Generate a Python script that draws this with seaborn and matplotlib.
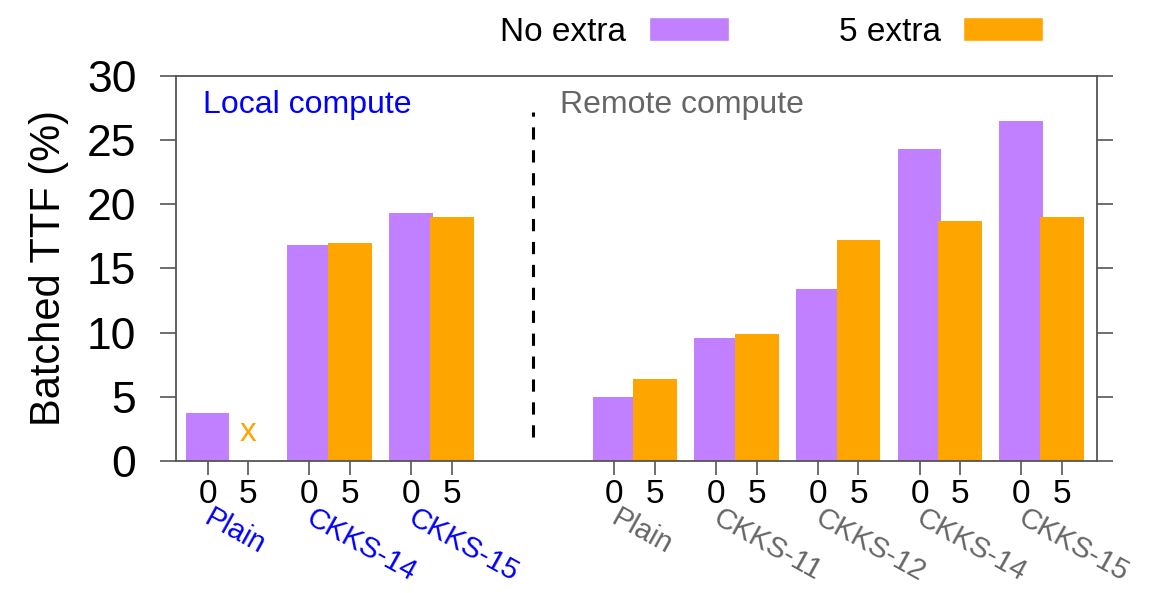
import numpy as np
import pandas as pd
import matplotlib
matplotlib.use("Agg")
import matplotlib.pyplot as plt
import seaborn as sns
from matplotlib.patches import Patch
from matplotlib.transforms import blended_transform_factory

# Batched time-to-first-token overhead per scheme
groups = ["Plain", "CKKS-14", "CKKS-15", "Plain", "CKKS-11", "CKKS-12", "CKKS-14", "CKKS-15"]
settings = ["Local", "Local", "Local", "Remote", "Remote", "Remote", "Remote", "Remote"]
no_extra = [3.7, 16.8, 19.3, 5.0, 9.6, 13.4, 24.3, 26.5]
five_extra = [np.nan, 17.0, 19.0, 6.4, 9.9, 17.2, 18.7, 19.0]
series = ["No extra", "5 extra"]
extra_ticks = ["0", "5"]
yticks = [0, 5, 10, 15, 20, 25, 30]

PURPLE = "#c080ff"
ORANGE = "#ffa500"
LOCAL_COLOR = "#0000ff"
REMOTE_COLOR = "#666666"
AXIS_COLOR = "#555555"

sns.set_style("ticks")
plt.rcParams["font.family"] = ["Liberation Sans", "DejaVu Sans"]
plt.rcParams["text.color"] = "black"
plt.rcParams["axes.labelcolor"] = "black"
plt.rcParams["xtick.labelcolor"] = "black"
plt.rcParams["ytick.labelcolor"] = "black"

# one slot per scheme, with an empty slot separating local and remote
local_keys = [f"{s} {g}" for s, g in zip(settings, groups) if s == "Local"]
remote_keys = [f"{s} {g}" for s, g in zip(settings, groups) if s == "Remote"]
order = local_keys + ["gap"] + remote_keys

rows = []
for s, g, a, b in zip(settings, groups, no_extra, five_extra):
    rows.append({"slot": f"{s} {g}", "series": series[0], "ttf": a})
    rows.append({"slot": f"{s} {g}", "series": series[1], "ttf": b})
df = pd.DataFrame(rows).dropna()

fig = plt.figure(figsize=(11.69, 5.93), dpi=100)
ax = fig.add_axes([0.1506, 0.2226, 0.7878, 0.6497])

sns.barplot(data=df, x="slot", y="ttf", hue="series", order=order,
            hue_order=series, palette=[PURPLE, ORANGE], width=0.8,
            saturation=1, linewidth=0, legend=False, ax=ax)

# slightly wider bars, centred on their ticks
for p in ax.patches:
    c = p.get_x() + p.get_width() / 2
    p.set_width(0.43)
    p.set_x(c - 0.215)

ax.set_xlim(-0.51, len(order) - 1 + 0.545)
ax.set_ylim(0, 30)
ax.set_yticks(yticks)
ax.set_yticklabels([str(v) for v in yticks])

slot_pos = [order.index(f"{s} {g}") for s, g in zip(settings, groups)]
xt, xl = [], []
for k in slot_pos:
    xt += [k - 0.2, k + 0.2]
    xl += extra_ticks
ax.set_xticks(xt)
ax.set_xticklabels(xl)
ax.set_xlabel("")
ax.set_ylabel("Batched TTF (%)", fontsize=30, labelpad=13)

for sp in ax.spines.values():
    sp.set_visible(True)
    sp.set_color(AXIS_COLOR)
    sp.set_linewidth(1.3)

ax.tick_params(axis="y", direction="out", length=11.5, width=1.2,
               color=AXIS_COLOR, left=True, right=True, labelsize=32, pad=17)
ax.tick_params(axis="x", direction="out", length=10, width=1.2,
               color=AXIS_COLOR, labelsize=24, pad=3)

# scheme names under each pair of bars
blend = blended_transform_factory(ax.transData, ax.transAxes)
for k, s, g in zip(slot_pos, settings, groups):
    ax.text(k - 0.14, -0.11, g, transform=blend, rotation=-29,
            rotation_mode="anchor", ha="left", va="top", fontsize=21,
            color=LOCAL_COLOR if s == "Local" else REMOTE_COLOR)

# missing 5-extra run for local plain
ax.text(slot_pos[0] + 0.2, 2.2, "x", color=ORANGE, ha="center",
        va="center", fontsize=24)

# separator between local and remote compute
gap = order.index("gap")
ax.axvline(gap, ymin=0.063, ymax=0.907, color="black", lw=2.2,
           ls=(0, (4, 3.5)))

ax.text(-0.245, 0.924, "Local compute", transform=blend, color=LOCAL_COLOR,
        fontsize=23, ha="left", va="center")
ax.text(3.266, 0.924, "Remote compute", transform=blend, color=REMOTE_COLOR,
        fontsize=23, ha="left", va="center")

handles = [Patch(facecolor=PURPLE), Patch(facecolor=ORANGE)]
fig.legend(handles, series, loc="center", bbox_to_anchor=(0.66, 0.946),
           ncol=2, frameon=False, markerfirst=False, fontsize=24,
           handlelength=2.4, handleheight=0.75, handletextpad=0.67,
           columnspacing=3.3)

fig.savefig("out.png", dpi=100)
